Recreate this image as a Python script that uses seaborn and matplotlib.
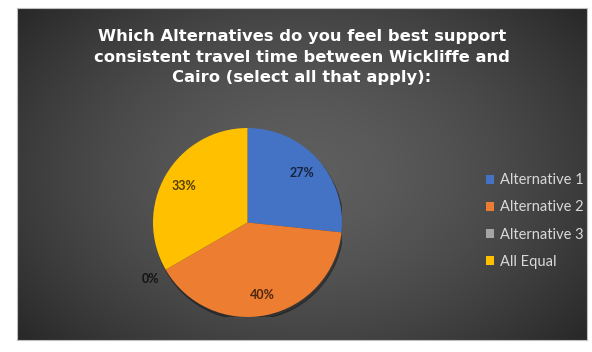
import numpy as np
import matplotlib
matplotlib.use("Agg")
import matplotlib.pyplot as plt
import seaborn as sns

# Survey responses (share of respondents)
categories = ["Alternative 1", "Alternative 2", "Alternative 3", "All Equal"]
values = [26.67, 40.0, 0.0, 33.33]
colors = ["#4472C4", "#ED7D31", "#A5A5A5", "#FFC000"]
title = ("Which Alternatives do you feel best support\n"
         "consistent travel time between Wickliffe and\n"
         "Cairo (select all that apply):")

sns.set_theme(style="white")
plt.rcParams["font.family"] = ["DejaVu Sans"]
palette = sns.color_palette(colors)

W, H = 592, 352
fig = plt.figure(figsize=(W / 100, H / 100), dpi=100, facecolor="white")

# dark panel with radial gradient
px0, py0, px1, py1 = 17, 8, 587, 340
bg = fig.add_axes([px0 / W, 1 - py1 / H, (px1 - px0) / W, (py1 - py0) / H])
yy, xx = np.mgrid[0:1:200j, 0:1:340j]
d = np.sqrt(((xx - 0.5) / 0.62) ** 2 + ((yy - 0.5) / 0.75) ** 2)
shade = np.clip(0.37 - 0.20 * d ** 1.6, 0.15, 1)
bg.imshow(np.dstack([shade] * 3), extent=[0, 1, 0, 1], aspect="auto",
          interpolation="bicubic")
bg.set_xticks([]); bg.set_yticks([])
for s in bg.spines.values():
    s.set_color("#bfbfbf"); s.set_linewidth(0.8)

bg.text(0.5, 1 - (57 - py0) / (py1 - py0), title, transform=bg.transAxes,
        ha="center", va="center", multialignment="center", color="white",
        fontsize=11.8, fontweight="bold", linespacing=1.45,
        family=["DejaVu Sans"])

# pie
cx, cy, r = 247.5, 222.5, 94.5
ax = fig.add_axes([(cx - r) / W, 1 - (cy + r) / H, 2 * r / W, 2 * r / H])
ax.set_facecolor("none")
shadow = plt.Circle((0.015, -0.03), 1.0, color="black", alpha=0.3, zorder=0)
ax.add_patch(shadow)
wedges, texts, autotexts = ax.pie(
    values, colors=palette, startangle=90, counterclock=False,
    autopct=lambda p: f"{p:.0f}%", pctdistance=0.78,
    wedgeprops=dict(linewidth=0),
    textprops=dict(color="black", alpha=0.68, fontsize=9, fontweight="bold",
                   family=["Lato", "DejaVu Sans"]),
)
ax.set_xlim(-1, 1); ax.set_ylim(-1, 1); ax.set_aspect("equal")
# zero slice label sits outside the pie
for w, t, v in zip(wedges, autotexts, values):
    if v == 0:
        th = np.deg2rad(w.theta1)
        t.set_position((1.19 * np.cos(th), 1.19 * np.sin(th)))
        t.set_alpha(0.72)

leg = fig.legend(wedges, categories, loc="center left",
                 bbox_to_anchor=(473 / W, 1 - 221 / H), frameon=False,
                 handlelength=0.55, handleheight=0.55,
                 handletextpad=0.4, labelspacing=0.9,
                 prop=dict(family=["Lato", "DejaVu Sans"], size=10.5))
for t in leg.get_texts():
    t.set_color("#d9d9d9")

fig.savefig("out.png", dpi=100, facecolor="white")
